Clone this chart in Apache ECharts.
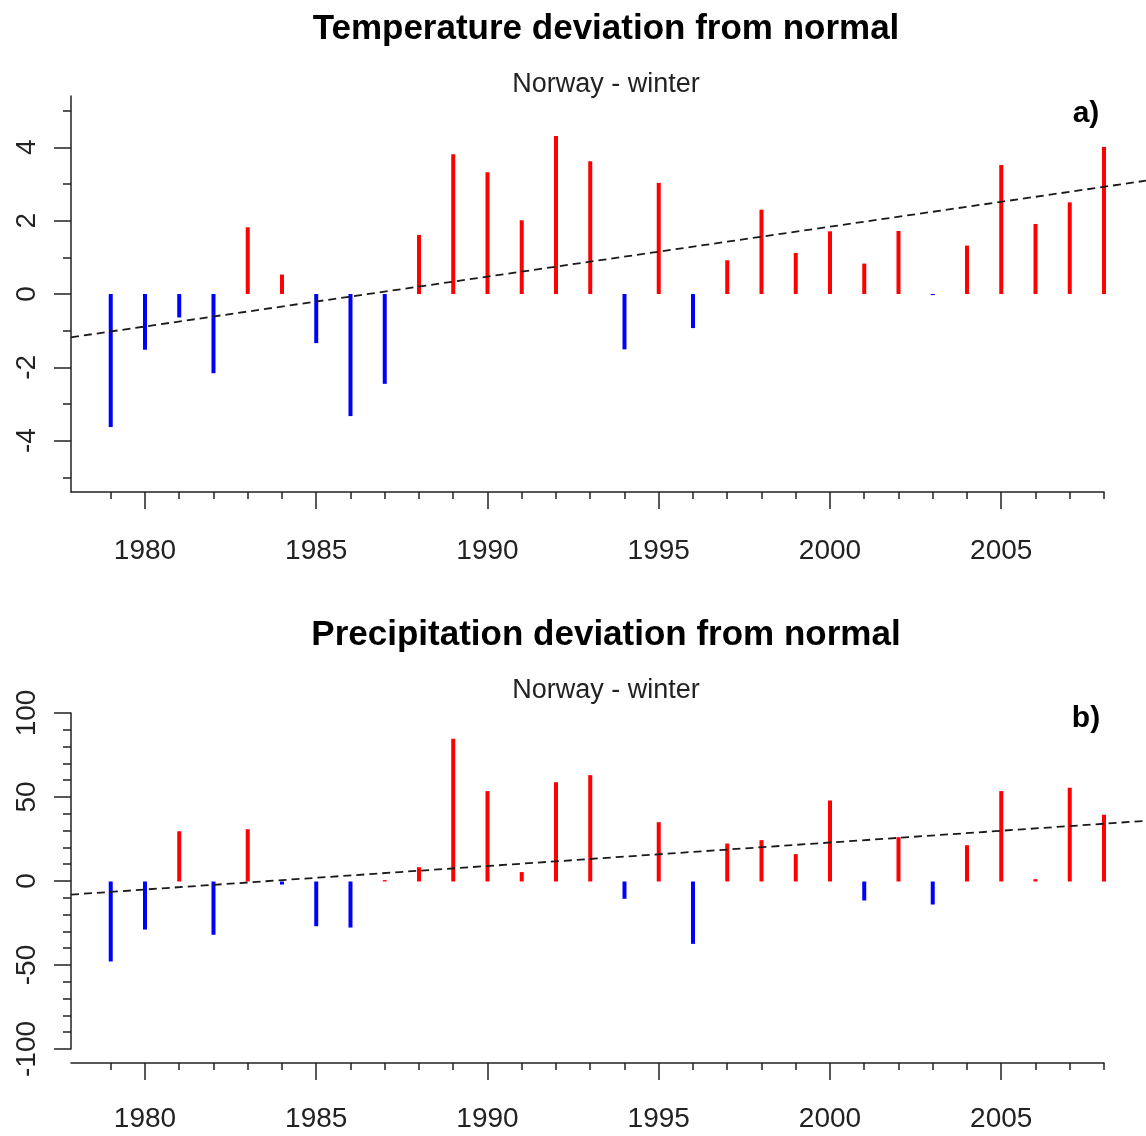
<!DOCTYPE html>
<html>
<head>
<meta charset="utf-8">
<title>Norway - winter</title>
<script src="https://cdn.jsdelivr.net/npm/echarts@6/dist/echarts.min.js"></script>
<style>
  html, body { margin: 0; padding: 0; background: #fff; }
  #chart { width: 1146px; height: 1136px; }
</style>
</head>
<body>
<div id="chart"></div>
<script>
// winters 1979 - 2008
var years = [1979, 1980, 1981, 1982, 1983, 1984, 1985, 1986, 1987, 1988,
  1989, 1990, 1991, 1992, 1993, 1994, 1995, 1996, 1997, 1998,
  1999, 2000, 2001, 2002, 2003, 2004, 2005, 2006, 2007, 2008]
// temperature deviation (deg C)
var tempDev = [-3.63, -1.52, -0.64, -2.16, 1.82, 0.53, -1.34, -3.33, -2.45, 1.61,
  3.81, 3.32, 2.01, 4.31, 3.62, -1.51, 3.03, -0.93, 0.92, 2.30,
  1.12, 1.71, 0.83, 1.72, -0.03, 1.32, 3.52, 1.91, 2.50, 4.01]
// precipitation deviation (%)
var precDev = [-47.6, -28.6, 29.9, -31.7, 31.1, -1.8, -26.6, -27.4, 0.8, 8.5,
  84.9, 53.8, 5.6, 59.1, 63.3, -10.3, 35.3, -37.1, 22.6, 24.6,
  16.3, 48.2, -11.3, 26.4, -13.7, 21.6, 53.8, 1.4, 55.8, 39.7]
// dashed trend lines, read at left edge of the panel and right edge of the picture
var trendYears = [1977.84, 2009.25]
var tempTrend = [-1.18, 3.09]
var precTrend = [-7.8, 36.1]
// axis ticks
var yearLabels = [1980, 1985, 1990, 1995, 2000, 2005]
var tempTicks = [-4, -2, 0, 2, 4]
var tempMinorTicks = [-5, -3, -1, 1, 3, 5]

var xMin = 1977.84
var xMax = 2008
var font = 'Liberation Sans, Arial, sans-serif'
var axisColor = '#222'

function pairs (xs, ys) {
  return xs.map(function (x, i) { return [x, ys[i]] })
}

function barColor (p) {
  return p.value[1] >= 0 ? '#ff0000' : '#0000ff'
}

function majorXAxis (gridIndex, margin) {
  return {
    type: 'value',
    gridIndex: gridIndex,
    position: 'bottom',
    min: xMin,
    max: xMax,
    axisLine: { onZero: false, lineStyle: { color: axisColor, width: 1.5 } },
    axisTick: { customValues: yearLabels, length: 17, lineStyle: { color: axisColor, width: 1.5 } },
    axisLabel: {
      customValues: yearLabels,
      margin: margin,
      fontSize: 28,
      lineHeight: 28,
      fontFamily: font,
      color: axisColor,
      formatter: function (v) { return String(v) }
    },
    splitLine: { show: false }
  }
}

function minorXAxis (gridIndex) {
  return {
    type: 'value',
    gridIndex: gridIndex,
    position: 'bottom',
    min: xMin,
    max: xMax,
    axisLine: { show: false, onZero: false },
    axisTick: { customValues: years, length: 7, lineStyle: { color: axisColor, width: 1.5 } },
    axisLabel: { show: false },
    splitLine: { show: false }
  }
}

var yLabel = {
  rotate: 90,
  margin: 30,
  fontSize: 28,
  lineHeight: 28,
  fontFamily: font,
  color: axisColor
}

var trendStyle = { color: '#1a1a1a', width: 1.8, type: [8, 5] }

var chart = echarts.init(document.getElementById('chart'))
var option = {
  backgroundColor: '#fff',
  animation: false,
  title: [
    {
      text: 'Temperature deviation from normal',
      left: 606, top: 12, textAlign: 'center', padding: 0,
      textStyle: { fontSize: 35, lineHeight: 35, fontWeight: 'bold', fontFamily: font, color: '#000' }
    },
    {
      text: 'Norway - winter',
      left: 606, top: 71, textAlign: 'center', padding: 0,
      textStyle: { fontSize: 27, lineHeight: 27, fontWeight: 'normal', fontFamily: font, color: '#222' }
    },
    {
      text: 'a)',
      left: 1086, top: 99, textAlign: 'center', padding: 0,
      textStyle: { fontSize: 30, lineHeight: 30, fontWeight: 'bold', fontFamily: font, color: '#000' }
    },
    {
      text: 'Precipitation deviation from normal',
      left: 606, top: 618, textAlign: 'center', padding: 0,
      textStyle: { fontSize: 35, lineHeight: 35, fontWeight: 'bold', fontFamily: font, color: '#000' }
    },
    {
      text: 'Norway - winter',
      left: 606, top: 677, textAlign: 'center', padding: 0,
      textStyle: { fontSize: 27, lineHeight: 27, fontWeight: 'normal', fontFamily: font, color: '#222' }
    },
    {
      text: 'b)',
      left: 1086, top: 704, textAlign: 'center', padding: 0,
      textStyle: { fontSize: 30, lineHeight: 30, fontWeight: 'bold', fontFamily: font, color: '#000' }
    }
  ],
  grid: [
    // a) temperature
    { left: 71, top: 96, width: 1033, height: 396 },
    // b) precipitation
    { left: 71, top: 700, width: 1033, height: 363 },
    // b) visible y axis, only spans -100..100
    { left: 71, top: 713, width: 1033, height: 336 },
    // trend lines run on to the picture edge, same scale as the panels
    { left: 71, top: 96, width: 1075.5, height: 396 },
    { left: 71, top: 700, width: 1075.5, height: 363 }
  ],
  xAxis: [
    majorXAxis(0, 45),
    minorXAxis(0),
    majorXAxis(1, 42),
    minorXAxis(1),
    { type: 'value', gridIndex: 2, min: xMin, max: xMax, show: false },
    { type: 'value', gridIndex: 3, min: trendYears[0], max: trendYears[1], show: false },
    { type: 'value', gridIndex: 4, min: trendYears[0], max: trendYears[1], show: false }
  ],
  yAxis: [
    {
      type: 'value',
      gridIndex: 0,
      position: 'left',
      min: -5.4,
      max: 5.4,
      axisLine: { show: true, onZero: false, lineStyle: { color: axisColor, width: 1.5 } },
      axisTick: { show: true, customValues: tempTicks, length: 17, lineStyle: { color: axisColor, width: 1.5 } },
      axisLabel: Object.assign({ customValues: tempTicks }, yLabel),
      splitLine: { show: false }
    },
    {
      type: 'value',
      gridIndex: 0,
      position: 'left',
      min: -5.4,
      max: 5.4,
      axisLine: { show: false, onZero: false },
      axisTick: { show: true, customValues: tempMinorTicks, length: 8, lineStyle: { color: axisColor, width: 1.5 } },
      axisLabel: { show: false },
      splitLine: { show: false }
    },
    { type: 'value', gridIndex: 1, min: -108, max: 108, show: false },
    {
      type: 'value',
      gridIndex: 2,
      position: 'left',
      min: -100,
      max: 100,
      interval: 50,
      axisLine: { show: true, onZero: false, lineStyle: { color: axisColor, width: 1.5 } },
      axisTick: { show: true, length: 17, lineStyle: { color: axisColor, width: 1.5 } },
      minorTick: { show: true, splitNumber: 5, length: 8, lineStyle: { color: axisColor, width: 1.5 } },
      axisLabel: yLabel,
      splitLine: { show: false }
    },
    { type: 'value', gridIndex: 3, min: -5.4, max: 5.4, show: false },
    { type: 'value', gridIndex: 4, min: -108, max: 108, show: false }
  ],
  series: [
    {
      name: 'temperature',
      type: 'bar',
      xAxisIndex: 0,
      yAxisIndex: 0,
      barWidth: 4,
      data: pairs(years, tempDev),
      itemStyle: { color: barColor }
    },
    {
      name: 'temperature trend',
      type: 'line',
      xAxisIndex: 5,
      yAxisIndex: 4,
      symbol: 'none',
      data: pairs(trendYears, tempTrend),
      lineStyle: trendStyle
    },
    {
      name: 'precipitation',
      type: 'bar',
      xAxisIndex: 2,
      yAxisIndex: 2,
      barWidth: 4,
      data: pairs(years, precDev),
      itemStyle: { color: barColor }
    },
    {
      name: 'precipitation trend',
      type: 'line',
      xAxisIndex: 6,
      yAxisIndex: 5,
      symbol: 'none',
      data: pairs(trendYears, precTrend),
      lineStyle: trendStyle
    }
  ]
}
chart.setOption(option)
</script>
</body>
</html>
